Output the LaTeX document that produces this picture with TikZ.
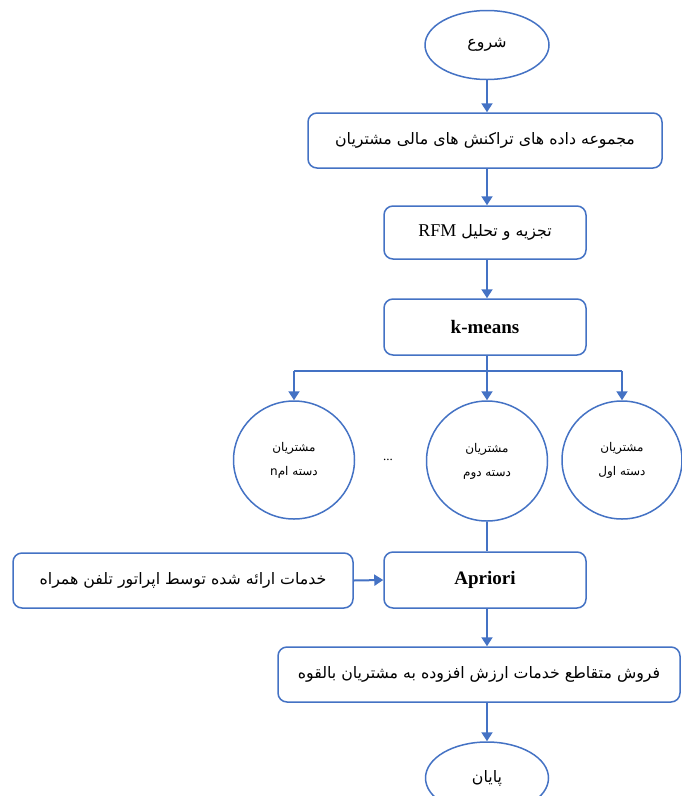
\documentclass[tikz,border=0pt]{standalone}
\usepackage{fontspec}
\setmainfont{Liberation Serif}
\newfontfamily\fa[Script=Arabic]{DejaVu Sans}
\TeXXeTstate=1
\usetikzlibrary{arrows.meta,shapes.geometric}
\definecolor{lineblue}{HTML}{4472C4}
\tikzset{
  box/.style={draw=lineblue, line width=1.5pt, rounded corners=9pt, fill=white, inner sep=0pt, align=center},
  oval/.style={draw=lineblue, line width=1.5pt, ellipse, inner sep=0pt, fill=white, align=center},
  arr/.style={draw=lineblue, line width=2pt, -{Triangle[width=11pt,length=9pt]}},
  ln/.style={draw=lineblue, line width=2pt},
  fatext/.style={font=\fa\fontsize{15.8}{18}\selectfont},
  smalltext/.style={font=\fa\fontsize{12}{14}\selectfont},
  lattext/.style={font=\fontsize{19}{22}\selectfont\bfseries},
}
\begin{document}
\begin{tikzpicture}[x=1pt,y=-1pt]
\useasboundingbox (0,0) rectangle (681,796);
\node[oval, fatext, minimum width=124pt, minimum height=69pt] (start) at (487,45) {\beginR شروع\endR};
\node[box, fatext, minimum width=354pt, minimum height=55pt] (b1) at (485,140.5) {\beginR مجموعه داده های تراکنش های مالی مشتریان\endR};
\node[box, fatext, minimum width=202pt, minimum height=53pt] (b2) at (485,232.5) {\beginR تجزیه و تحلیل \beginL{\rmfamily\fontsize{18}{20}\selectfont RFM}\endL\endR};
\node[box, lattext, minimum width=202pt, minimum height=56pt] (b3) at (485,327) {k-means};
\coordinate (br) at (487,371);
\node[oval, smalltext, minimum width=120pt, minimum height=118pt] (c1) at (622,460) {\beginR مشتریان\endR\\[10pt]\beginR دسته اول\endR};
\node[oval, smalltext, minimum width=121pt, minimum height=120pt] (cm) at (487,461) {\beginR مشتریان\endR\\[10pt]\beginR دسته دوم\endR};
\node[oval, smalltext, minimum width=121pt, minimum height=118pt] (cn) at (294,460) {\beginR مشتریان\endR\\[10pt]\beginR دسته nام\endR};
\node[font=\fontsize{13}{14}\selectfont] (dots) at (388,460) {...};
\node[box, lattext, minimum width=202pt, minimum height=56pt] (ap) at (485,580) {Apriori};
\node[box, fatext, minimum width=340pt, minimum height=55pt] (lb) at (183,580.5) {\beginR خدمات ارائه شده توسط اپراتور تلفن همراه\endR};
\node[box, fatext, minimum width=402pt, minimum height=55pt] (fb) at (479,674.5) {\beginR فروش متقاطع خدمات ارزش افزوده به مشتریان بالقوه\endR};
\node[oval, fatext, minimum width=123pt, minimum height=72pt] (end) at (487,778) {\beginR پایان\endR};
\draw[arr] (start.south) -- (start.south |- b1.north);
\draw[arr] (start.south |- b1.south) -- (start.south |- b2.north);
\draw[arr] (start.south |- b2.south) -- (start.south |- b3.north);
\draw[ln] (cn.north |- br) -- (c1.north |- br);
\draw[arr] (start.south |- b3.south) -- (cm.north);
\draw[arr] (cn.north |- br) -- (cn.north);
\draw[arr] (c1.north |- br) -- (c1.north);
\draw[ln] (cm.south) -- (cm.south |- ap.north);
\draw[arr] (lb.east) -- (ap.west);
\draw[arr] (cm.south |- ap.south) -- (cm.south |- fb.north);
\draw[arr] (end.north |- fb.south) -- (end.north);
\end{tikzpicture}
\end{document}
